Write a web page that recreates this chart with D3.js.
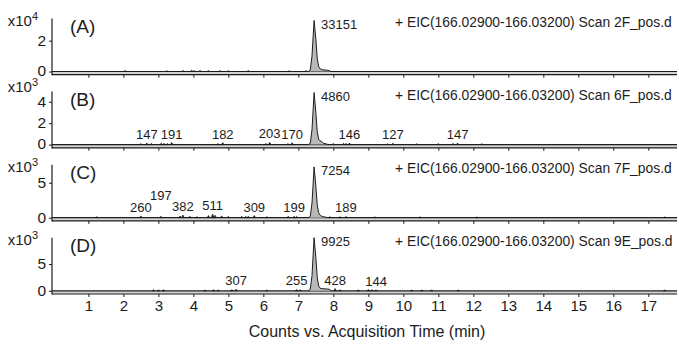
<!DOCTYPE html>
<html>
<head>
<meta charset="utf-8">
<script src="https://cdn.jsdelivr.net/npm/d3@7"></script>
<style>
  html, body { margin: 0; padding: 0; background: #fff; }
  svg { display: block; font-family: "Liberation Sans", Arial, sans-serif; }
</style>
</head>
<body>
<svg id="chart" width="679" height="344"></svg>
<script>
// Retention-time axis ticks (min)
const timeTicks = [1, 2, 3, 4, 5, 6, 7, 8, 9, 10, 11, 12, 13, 14, 15, 16, 17];

// Panel identifiers and extracted-ion chromatogram headers
const panelIds = ["(A)", "(B)", "(C)", "(D)"];
const scanNames = ["2F_pos.d", "6F_pos.d", "7F_pos.d", "9E_pos.d"];
const eicRange = "166.02900-166.03200";

// Count axes: exponent, full-scale value and tick values
const axisExponents = [4, 3, 3, 3];
const yMaxCounts = [34400, 4950, 7570, 9900];
const yTicksA = [0, 20000];
const yTicksB = [0, 2000, 4000];
const yTicksC = [0, 5000];
const yTicksD = [0, 5000];

// Main chromatographic peak profiles [time (min), counts]
const peakA = [[7.28, 0], [7.34, 900], [7.39, 10000], [7.45, 33151], [7.50, 21000], [7.54, 8500],
               [7.58, 3200], [7.63, 1600], [7.70, 1100], [7.80, 900], [7.88, 600], [7.93, 0]];
const peakB = [[7.28, 0], [7.34, 120], [7.39, 1400], [7.45, 4860], [7.50, 3000], [7.54, 1200],
               [7.58, 500], [7.62, 350], [7.66, 300], [7.72, 120], [7.80, 60], [7.86, 0]];
const peakC = [[7.28, 0], [7.34, 180], [7.39, 2100], [7.45, 7254], [7.50, 4500], [7.54, 1800],
               [7.58, 700], [7.63, 300], [7.70, 150], [7.78, 80], [7.84, 0]];
const peakD = [[7.28, 0], [7.34, 250], [7.39, 2800], [7.45, 9925], [7.50, 6200], [7.54, 2500],
               [7.58, 900], [7.63, 450], [7.70, 380], [7.80, 350], [7.88, 300], [7.94, 0]];

// Labelled minor peaks [time (min), counts]
const minorA = [];
const minorB = [[2.67, 147], [3.38, 191], [4.84, 182], [6.18, 203], [6.82, 170], [8.46, 146], [9.70, 127], [11.55, 147]];
const minorC = [[2.50, 260], [3.07, 197], [3.70, 382], [4.55, 511], [5.74, 309], [6.88, 199], [8.36, 189]];
const minorD = [[5.22, 307], [6.95, 255], [8.05, 428], [9.22, 144]];

// Unlabelled baseline noise spikes [time (min), counts]
const noiseA = [[2.05, 600], [3.24, 500], [3.70, 700], [3.95, 800], [4.02, 600], [4.19, 700], [4.43, 600],
                [4.76, 600], [5.00, 500], [5.57, 700], [6.74, 500], [7.22, 600]];
const noiseB = [[2.50, 90], [2.80, 100], [3.08, 120], [3.16, 110], [3.26, 100], [4.70, 90], [6.07, 100],
                [6.70, 90], [8.00, 110], [8.29, 120], [8.36, 100], [9.55, 90], [10.38, 80], [11.00, 90],
                [11.42, 100], [12.24, 80]];
const noiseC = [[1.24, 150], [3.62, 250], [3.90, 200], [4.10, 150], [4.43, 300], [4.62, 350], [4.81, 250],
                [5.00, 200], [5.38, 200], [5.50, 180], [5.57, 200], [6.10, 150], [6.71, 200], [6.95, 180],
                [7.90, 150], [8.19, 150], [9.19, 120], [10.48, 120], [12.10, 100], [17.47, 100]];
const noiseD = [[2.86, 200], [3.00, 150], [3.14, 200], [4.33, 150], [4.57, 180], [4.71, 150], [5.10, 200],
                [6.10, 150], [7.05, 180], [8.19, 200], [8.71, 150], [9.00, 250], [9.10, 200], [10.24, 150],
                [10.53, 150], [10.81, 150], [11.57, 120], [17.47, 100]];

const panels = [
  { peak: peakA, minor: minorA, noise: noiseA, ticks: yTicksA },
  { peak: peakB, minor: minorB, noise: noiseB, ticks: yTicksB },
  { peak: peakC, minor: minorC, noise: noiseC, ticks: yTicksC },
  { peak: peakD, minor: minorD, noise: noiseD, ticks: yTicksD }
];

const svg = d3.select("#chart");
const ink = "#1c1c1c";

// Shared time scale
const x = d3.scaleLinear().domain([-0.04, 17.8]).range([52, 676.3]);
const xLeft = 52, xRight = 677;
const firstBase = 71.5, panelStep = 73.1, plotH = 53, axisGap = 3.2;

panels.forEach((p, i) => {
  const base = firstBase + panelStep * i;
  const axisY = base + axisGap;
  const y = d3.scaleLinear().domain([0, yMaxCounts[i]]).range([base, base - plotH]);
  const g = svg.append("g");
  const scale = Math.pow(10, axisExponents[i]);

  // Band between trace baseline and the time axis
  g.append("rect")
    .attr("x", xLeft).attr("y", base)
    .attr("width", xRight - xLeft).attr("height", axisGap)
    .attr("fill", "#d4d4d4");

  // Time axis with downward ticks
  const xAxis = d3.axisBottom(x).tickValues(timeTicks).tickSize(3)
    .tickFormat(i === panels.length - 1 ? d3.format("d") : () => "");
  const ax = g.append("g").attr("transform", `translate(0,${axisY})`).call(xAxis);
  ax.select(".domain").remove();
  ax.selectAll(".tick line").attr("stroke", ink).attr("stroke-width", 1);
  ax.selectAll(".tick text")
    .attr("fill", ink).attr("font-size", 15).attr("y", 6)
    .attr("font-family", "Liberation Sans, Arial, sans-serif");
  g.append("line")
    .attr("x1", xLeft).attr("x2", xRight)
    .attr("y1", axisY).attr("y2", axisY)
    .attr("stroke", ink).attr("stroke-width", 1.2);

  // Count axis with left ticks
  const yAxis = d3.axisLeft(y).tickValues(p.ticks).tickSize(3)
    .tickFormat(v => d3.format("d")(v / scale));
  const ay = g.append("g").attr("transform", `translate(${xLeft},0)`).call(yAxis);
  ay.select(".domain").remove();
  ay.selectAll(".tick line").attr("stroke", ink);
  ay.selectAll(".tick text")
    .attr("fill", ink).attr("font-size", 15.5).attr("x", -6).attr("dy", "0.28em")
    .attr("font-family", "Liberation Sans, Arial, sans-serif");
  g.append("line")
    .attr("x1", xLeft).attr("x2", xLeft)
    .attr("y1", base - plotH).attr("y2", axisY + 0.6)
    .attr("stroke", ink).attr("stroke-width", 1.2);

  // Exponent label (x10^n)
  const topTick = d3.max(p.ticks);
  const expY = Math.min(base - 45.5, y(topTick) - 10);
  const expText = g.append("text")
    .attr("x", 38).attr("y", expY)
    .attr("text-anchor", "end").attr("font-size", 15).attr("fill", ink);
  expText.append("tspan").text("x10");
  expText.append("tspan").text(axisExponents[i])
    .attr("font-size", 11).attr("dy", -6);

  // Panel identifier and EIC header
  g.append("text")
    .attr("x", 70).attr("y", base - 45).attr("dy", "0.35em")
    .attr("font-size", 19).attr("fill", ink).text(panelIds[i]);
  g.append("text")
    .attr("x", 395).attr("y", base - 49.5).attr("dy", "0.35em")
    .attr("font-size", 13.85).attr("fill", ink)
    .text(`+ EIC(${eicRange}) Scan ${scanNames[i]}`);

  // Trace baseline
  g.append("line")
    .attr("x1", xLeft).attr("x2", xRight)
    .attr("y1", base).attr("y2", base)
    .attr("stroke", ink).attr("stroke-width", 1.2);

  // Main peak: filled area and outline
  g.append("path")
    .datum(p.peak)
    .attr("d", d3.area().x(d => x(d[0])).y0(base).y1(d => y(d[1])))
    .attr("fill", "#b9b9b9");
  g.append("path")
    .datum(p.peak)
    .attr("d", d3.line().x(d => x(d[0])).y(d => y(d[1])))
    .attr("fill", "none").attr("stroke", ink).attr("stroke-width", 1);

  // Minor spikes (labelled and unlabelled)
  const spike = d => {
    const cx = x(d[0]), cy = Math.min(y(d[1]), base - 0.8);
    return `M${cx - 1.3},${base}L${cx},${cy}L${cx + 1.3},${base}Z`;
  };
  g.selectAll(".spike")
    .data(p.noise.concat(p.minor))
    .join("path")
    .attr("d", spike)
    .attr("fill", ink).attr("stroke", ink).attr("stroke-width", 0.7);

  // Main peak height label
  const apex = p.peak.reduce((a, b) => (b[1] > a[1] ? b : a));
  g.append("text")
    .attr("x", x(apex[0]) + 7).attr("y", y(apex[1]) + 4).attr("dy", "0.35em")
    .attr("font-size", 13).attr("fill", ink).text(apex[1]);

  // Minor peak labels, lifted one row when crowding the previous label
  let lastX = -Infinity;
  p.minor.forEach(d => {
    const cx = x(d[0]);
    let ty = y(d[1]) - 4;
    if (cx - lastX < 21) {
      ty -= 12;
    } else {
      lastX = cx;
    }
    g.append("text")
      .attr("x", cx).attr("y", ty)
      .attr("text-anchor", "middle").attr("font-size", 13).attr("fill", ink)
      .text(d[1]);
  });
});

// Time axis title
svg.append("text")
  .attr("x", 367).attr("y", 331).attr("dy", "0.35em")
  .attr("text-anchor", "middle").attr("font-size", 16).attr("fill", ink)
  .text("Counts vs. Acquisition Time (min)");
</script>
</body>
</html>
